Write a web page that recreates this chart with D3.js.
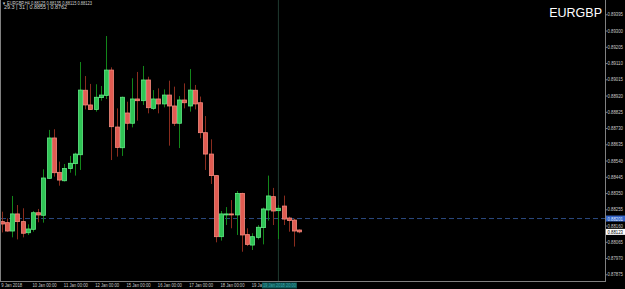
<!DOCTYPE html>
<html><head><meta charset="utf-8">
<script src="https://cdn.jsdelivr.net/npm/d3@7"></script>
<style>html,body{margin:0;padding:0;background:#000;overflow:hidden}svg{display:block}</style>
</head><body>
<svg id="chart" width="625" height="289"></svg>
<script>
// ---- data (EURGBP H4) ----
const opens  = [0.88183,0.88177,0.88128,0.88228,0.88183,0.88118,0.88138,0.88235,0.88220,0.88436,
                0.88672,0.88471,0.88422,0.88493,0.88522,0.88574,0.88951,0.88865,0.88839,0.88908,
                0.88921,0.89069,0.88736,0.88615,0.88818,0.88758,0.88900,0.88890,0.89011,0.88845,
                0.88900,0.88871,0.88923,0.88859,0.88758,0.88894,0.88859,0.88951,0.88878,0.88703,
                0.88578,0.88452,0.88095,0.88224,0.88228,0.88222,0.88348,0.88107,0.88046,0.88091,
                0.88148,0.88251,0.88329,0.88247,0.88274,0.88204,0.88192,0.88134];
const highs  = [0.88241,0.88202,0.88333,0.88280,0.88261,0.88167,0.88245,0.88257,0.88489,0.88719,
                0.88723,0.88534,0.88520,0.88567,0.88586,0.89116,0.89034,0.88988,0.88986,0.88976,
                0.89268,0.89085,0.88845,0.88914,0.88884,0.89021,0.89058,0.89093,0.89030,0.88952,
                0.88962,0.88956,0.89007,0.88972,0.88917,0.88991,0.89075,0.88982,0.88914,0.88800,
                0.88664,0.88455,0.88245,0.88268,0.88309,0.88362,0.88352,0.88144,0.88115,0.88163,
                0.88265,0.88452,0.88380,0.88280,0.88335,0.88212,0.88200,0.88138];
const lows   = [0.88120,0.88124,0.88091,0.88079,0.88091,0.88105,0.88124,0.88179,0.88177,0.88432,
                0.88446,0.88393,0.88417,0.88469,0.88452,0.88485,0.88839,0.88836,0.88826,0.88890,
                0.88900,0.88543,0.88563,0.88567,0.88719,0.88734,0.88773,0.88865,0.88816,0.88836,
                0.88816,0.88851,0.88627,0.88742,0.88613,0.88845,0.88826,0.88839,0.88670,0.88485,
                0.88403,0.88062,0.88072,0.88163,0.88144,0.88105,0.88007,0.88040,0.88017,0.88079,
                0.88050,0.88189,0.88163,0.88081,0.88163,0.88124,0.88037,0.88115];
const closes = [0.88169,0.88128,0.88228,0.88183,0.88115,0.88140,0.88235,0.88222,0.88438,0.88672,
                0.88469,0.88426,0.88493,0.88524,0.88578,0.88952,0.88865,0.88839,0.88910,0.88923,
                0.89069,0.88738,0.88617,0.88910,0.88758,0.88900,0.88890,0.89011,0.88849,0.88900,
                0.88871,0.88923,0.88859,0.88758,0.88894,0.88878,0.88952,0.88871,0.88703,0.88578,
                0.88452,0.88095,0.88228,0.88228,0.88224,0.88348,0.88105,0.88050,0.88095,0.88150,
                0.88257,0.88333,0.88245,0.88261,0.88198,0.88189,0.88128,0.88123];
const priceTicks = [0.89395,0.89300,0.89205,0.89110,0.89015,0.88920,0.88825,0.88730,0.88635,0.88540,
                    0.88445,0.88350,0.88255,0.88160,0.88065,0.87970,0.87875];
const timeTickIdx = [0,6,12,18,24,30,36,42,48];
const timeLabels = ["9 Jan 2018","10 Jan 00:00","11 Jan 00:00","12 Jan 00:00","15 Jan 00:00",
                    "16 Jan 00:00","17 Jan 00:00","18 Jan 00:00","19 Jan 00:00"];
const symbol = "EURGBP";
const headerLine1 = "\u25BC EURGBP,H4  0.88125 0.88135 0.88115 0.88123";
const headerLine2 = "29.3  |  31  |  0.8855  |  0.8762";
const bidPrice = 0.88201;
const lastPrice = 0.88123;
const crossIdx = 53;
const crossLabel = "19 Jan 2018 20:00";

// ---- layout ----
const W = 625, H = 289;
const plotL = 1, plotR = 605, plotB = 281;
const svg = d3.select("#chart");
svg.append("rect").attr("width", W).attr("height", H).attr("fill", "#000");

const x = d3.scaleLinear().domain([0, 57]).range([1.7, 299.3]);
const y = d3.scaleLinear().domain([0.87875, 0.89395]).range([274.3, 14.3]);

svg.append("defs").append("clipPath").attr("id", "plotclip")
  .append("rect").attr("x", plotL).attr("y", 0).attr("width", plotR - plotL).attr("height", plotB);

const plot = svg.append("g").attr("clip-path", "url(#plotclip)");

// crosshair vertical line
plot.append("line").attr("x1", x(crossIdx)).attr("x2", x(crossIdx)).attr("y1", 0).attr("y2", plotB)
  .attr("stroke", "#1f3a30").attr("stroke-width", 1);

// bid dashed line
plot.append("line").attr("x1", plotL).attr("x2", plotR).attr("y1", y(bidPrice)).attr("y2", y(bidPrice))
  .attr("stroke", "#2b4a80").attr("stroke-width", 1).attr("stroke-dasharray", "5,3");

const data = opens.map((o, i) => ({i, o, h: highs[i], l: lows[i], c: closes[i]}));
const up = d => d.c >= d.o;

// wicks
plot.selectAll("line.wick").data(data).join("line").attr("class", "wick")
  .attr("x1", d => Math.round(x(d.i)) + 0.5).attr("x2", d => Math.round(x(d.i)) + 0.5)
  .attr("y1", d => y(d.h)).attr("y2", d => y(d.l))
  .attr("stroke", d => up(d) ? "#12861a" : "#8a2c1e").attr("stroke-width", 1);

// bodies
plot.selectAll("rect.body").data(data).join("rect").attr("class", "body")
  .attr("x", d => Math.round(x(d.i)) - 1.5)
  .attr("width", 4)
  .attr("y", d => y(Math.max(d.o, d.c)))
  .attr("height", d => Math.max(1, Math.abs(y(d.o) - y(d.c))))
  .attr("fill", d => up(d) ? "#2fc455" : "#e05c52")
  .attr("stroke", d => up(d) ? "#62ea86" : "#f58a7e").attr("stroke-width", 0.8);

// borders
svg.append("line").attr("x1", 0.5).attr("x2", 0.5).attr("y1", 0).attr("y2", plotB).attr("stroke", "#808080");
svg.append("line").attr("x1", plotR + 0.5).attr("x2", plotR + 0.5).attr("y1", 0).attr("y2", plotB + 0.5).attr("stroke", "#808080");
svg.append("line").attr("x1", 0).attr("x2", plotR + 1).attr("y1", plotB + 0.5).attr("y2", plotB + 0.5).attr("stroke", "#808080");

// right price axis
const yAxis = d3.axisRight(y).tickValues(priceTicks).tickFormat(d3.format(".5f")).tickSize(2).tickPadding(0);
const ya = svg.append("g").attr("transform", `translate(${plotR + 0.5},0)`).call(yAxis);
ya.select(".domain").remove();
ya.selectAll(".tick line").attr("stroke", "#808080");
ya.selectAll(".tick text").attr("fill", "#c8c8c8").attr("font-family", "Liberation Sans, Arial, sans-serif")
  .attr("font-size", 5.2).attr("textLength", 15.5).attr("lengthAdjust", "spacingAndGlyphs");

// bid label
const bidY = y(bidPrice);
svg.append("rect").attr("x", plotR + 1).attr("y", bidY - 3).attr("width", 19).attr("height", 6).attr("fill", "#3463c6");
svg.append("text").attr("x", plotR + 2.5).attr("y", bidY + 2).text(d3.format(".5f")(bidPrice))
  .attr("fill", "#dfe8ff").attr("font-family", "Liberation Sans, Arial, sans-serif").attr("font-size", 5.2)
  .attr("textLength", 15.5).attr("lengthAdjust", "spacingAndGlyphs");
// last price label
const lastY = y(lastPrice);
svg.append("rect").attr("x", plotR + 1).attr("y", lastY - 3).attr("width", 19).attr("height", 6).attr("fill", "#ffffff");
svg.append("text").attr("x", plotR + 2.5).attr("y", lastY + 2).text(d3.format(".5f")(lastPrice))
  .attr("fill", "#000").attr("font-family", "Liberation Sans, Arial, sans-serif").attr("font-size", 5.2)
  .attr("textLength", 15.5).attr("lengthAdjust", "spacingAndGlyphs");

// bottom time axis
const xAxis = d3.axisBottom(x).tickValues(timeTickIdx).tickFormat((d, k) => timeLabels[k]).tickSize(0).tickPadding(0);
const xa = svg.append("g").attr("transform", `translate(0,${plotB})`).call(xAxis);
xa.select(".domain").remove();
xa.selectAll(".tick text").attr("fill", "#c8c8c8").attr("font-family", "Liberation Sans, Arial, sans-serif")
  .attr("font-size", 5.2).attr("text-anchor", "start").attr("dx", -1).attr("dy", 0).attr("y", 6.3)
  .attr("textLength", (d, k) => k === 0 ? 21 : 24).attr("lengthAdjust", "spacingAndGlyphs");

// crosshair time label
const cx = x(crossIdx);
svg.append("rect").attr("x", cx - 16.5).attr("y", plotB + 1.5).attr("width", 35).attr("height", 6).attr("fill", "#0f5a5a");
svg.append("text").attr("x", cx - 15.5).attr("y", plotB + 6.3).text(crossLabel)
  .attr("fill", "#3aa3a3").attr("font-family", "Liberation Sans, Arial, sans-serif").attr("font-size", 5.2)
  .attr("textLength", 33).attr("lengthAdjust", "spacingAndGlyphs");

// header
svg.append("text").attr("x", 2).attr("y", 5).text(headerLine1)
  .attr("fill", "#d0d0d0").attr("font-family", "Liberation Sans, Arial, sans-serif").attr("font-size", 4.6)
  .attr("textLength", 90).attr("lengthAdjust", "spacingAndGlyphs");
svg.append("text").attr("x", 4).attr("y", 9.2).text(headerLine2)
  .attr("fill", "#d0d0d0").attr("font-family", "Liberation Sans, Arial, sans-serif").attr("font-size", 4.6)
  .attr("textLength", 63).attr("lengthAdjust", "spacingAndGlyphs");

// symbol title
svg.append("text").attr("x", 602).attr("y", 17).attr("text-anchor", "end").text(symbol)
  .attr("fill", "#ffffff").attr("font-family", "Liberation Sans, Arial, sans-serif").attr("font-size", 12.5);
</script>
</body></html>
